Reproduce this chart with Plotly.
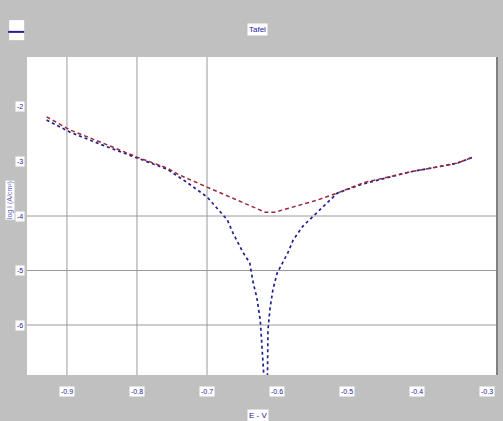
import plotly.graph_objects as go

# Data
fit_x = [-0.929, -0.896, -0.849, -0.800, -0.757, -0.739, -0.700, -0.657, -0.631, -0.617,
         -0.603, -0.581, -0.543, -0.514, -0.477, -0.439, -0.410, -0.371, -0.343, -0.320]
fit_y = [-2.18, -2.42, -2.66, -2.92, -3.12, -3.25, -3.47, -3.71, -3.85, -3.93,
         -3.93, -3.85, -3.71, -3.58, -3.39, -3.28, -3.19, -3.10, -3.03, -2.92]

meas_x = [-0.929, -0.896, -0.849, -0.800, -0.757, -0.729, -0.700, -0.671, -0.663, -0.649,
          -0.639, -0.634, -0.629, -0.624, -0.621, -0.619, -0.617,
          -0.614, -0.613, -0.610, -0.606, -0.600, -0.584, -0.577, -0.564, -0.557,
          -0.529, -0.514, -0.477, -0.439, -0.410, -0.371, -0.343, -0.320]
meas_y = [-2.24, -2.46, -2.70, -2.94, -3.14, -3.38, -3.65, -4.07, -4.31, -4.66,
          -4.86, -5.23, -5.49, -5.91, -6.59, -6.88, -7.30,
          -7.30, -6.09, -5.69, -5.36, -5.05, -4.66, -4.44, -4.20, -4.11,
          -3.76, -3.58, -3.41, -3.28, -3.19, -3.10, -3.03, -2.92]

x_ticks = [-0.9, -0.8, -0.7, -0.6, -0.5, -0.4, -0.3]
x_tick_text = ["-0.9", "-0.8", "-0.7", "-0.6", "-0.5", "-0.4", "-0.3"]
y_ticks = [-2, -3, -4, -5, -6]
y_tick_text = ["-2", "-3", "-4", "-5", "-6"]
x_grid = [-0.9, -0.8, -0.7]
y_grid = [-4, -5, -6]

title_text = "Tafel"
x_title = "E - V"
y_title = "log I (A/cm²)"

TXT = "#1a1aa0"
FONT = "Liberation Sans"

fig = go.Figure()
fig.add_trace(go.Scatter(x=meas_x, y=meas_y, mode="lines",
                         line=dict(color="#202090", width=1.7, dash="dot"),
                         showlegend=False))
fig.add_trace(go.Scatter(x=fit_x, y=fit_y, mode="lines",
                         line=dict(color="#9a2838", width=1.5, dash="4px,3px"),
                         showlegend=False))

shapes = []
for gx in x_grid:
    shapes.append(dict(type="line", xref="x", yref="paper", x0=gx, x1=gx, y0=0, y1=1,
                       line=dict(color="#9a9a9a", width=1), layer="below"))
for gy in y_grid:
    shapes.append(dict(type="line", xref="paper", yref="y", x0=0, x1=1, y0=gy, y1=gy,
                       line=dict(color="#9a9a9a", width=1), layer="below"))
# right border of plot area
shapes.append(dict(type="line", xref="paper", yref="paper", x0=1, x1=1, y0=0, y1=1,
                   line=dict(color="#808080", width=2)))
# legend-like box top-left
shapes.append(dict(type="rect", xref="paper", yref="paper", x0=-0.038, x1=-0.006,
                   y0=1.053, y1=1.116, fillcolor="white", line=dict(width=0)))
shapes.append(dict(type="line", xref="paper", yref="paper", x0=-0.040, x1=-0.006,
                   y0=1.079, y1=1.079, line=dict(color="#202090", width=2)))

annotations = []
for v, t in zip(x_ticks, x_tick_text):
    annotations.append(dict(x=v, y=-0.053, xref="x", yref="paper", text=t, showarrow=False,
                            font=dict(size=7, color=TXT, family=FONT), bgcolor="white",
                            xanchor="center", yanchor="middle", borderpad=1))
for v, t in zip(y_ticks, y_tick_text):
    annotations.append(dict(x=-0.015, y=v, xref="paper", yref="y", text=t, showarrow=False,
                            font=dict(size=7, color=TXT, family=FONT), bgcolor="white",
                            xanchor="center", yanchor="middle", borderpad=1))
annotations.append(dict(x=0.491, y=1.085, xref="paper", yref="paper", text=title_text,
                        showarrow=False, font=dict(size=8, color=TXT, family=FONT),
                        bgcolor="white", xanchor="center", yanchor="middle", borderpad=1))
annotations.append(dict(x=0.491, y=-0.126, xref="paper", yref="paper", text=x_title,
                        showarrow=False, font=dict(size=8, color=TXT, family=FONT),
                        bgcolor="white", xanchor="center", yanchor="middle", borderpad=1))
annotations.append(dict(x=-0.036, y=0.55, xref="paper", yref="paper", text=y_title,
                        showarrow=False, textangle=-90,
                        font=dict(size=7, color="#6060c0", family=FONT),
                        bgcolor="white", xanchor="center", yanchor="middle", borderpad=0))

fig.update_layout(
    width=503, height=421,
    margin=dict(l=27, r=6, t=57, b=46),
    paper_bgcolor="#c0c0c0",
    plot_bgcolor="white",
    showlegend=False,
    shapes=shapes,
    annotations=annotations,
    xaxis=dict(range=[-0.957, -0.286], showgrid=False, zeroline=False,
               showticklabels=False, ticks="", showline=False),
    yaxis=dict(range=[-6.917, -1.083], showgrid=False, zeroline=False,
               showticklabels=False, ticks="", showline=False),
)

fig.write_html("out.html")
